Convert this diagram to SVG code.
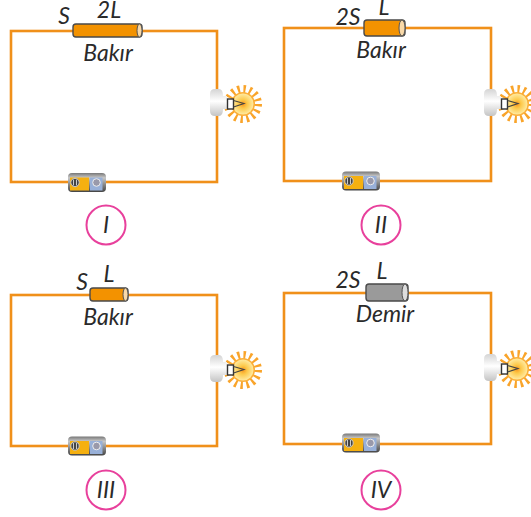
<svg xmlns="http://www.w3.org/2000/svg" width="531" height="517" viewBox="0 0 531 517">
<style>
.w{fill:none;stroke:#f0901a;stroke-width:2.6}
.t{font-family:"Lato","Open Sans","Liberation Sans",sans-serif;font-style:italic;font-size:23px;fill:#2a2a2a;text-anchor:middle}
.c{fill:#fff;stroke:#e8409c;stroke-width:2}
.r{stroke:#4a4a4a;stroke-width:1.4}
</style>
<defs>
<linearGradient id="sock" x1="0" y1="0" x2="0" y2="1"><stop offset="0" stop-color="#d4d4d4"/><stop offset=".45" stop-color="#ffffff"/><stop offset="1" stop-color="#c4c4c4"/></linearGradient>
<linearGradient id="metal" x1="0" y1="0" x2="0" y2="1"><stop offset="0" stop-color="#777"/><stop offset=".25" stop-color="#c8c8c8"/><stop offset="1" stop-color="#444"/></linearGradient>
<radialGradient id="glow"><stop offset="0" stop-color="#f7941d"/><stop offset=".4" stop-color="#fdc94a"/><stop offset="1" stop-color="#ffeaa0"/></radialGradient>
<g id="bulb">
<circle cx="26" cy="2" r="15" fill="none" stroke="#f9a42a" stroke-width="8" stroke-dasharray="2.300 3.590"/>
<circle cx="26" cy="2" r="12" fill="#fbb03b"/>
<circle cx="26" cy="2" r="10.500" fill="url(#glow)"/>
<path d="M-7-8Q-7-13-2-13H2Q6-13 6-6H10V7H6Q6 14 2 14H-2Q-7 14-7 9Z" fill="url(#sock)"/>
<rect x="10.500" y="-3" width="6" height="10" fill="#fff" stroke="#333" stroke-width="1.400"/>
<path d="M16.500-1.500 27 1.500 16.500 5" fill="none" stroke="#444" stroke-width="1.100"/>
</g>
<g id="bat">
<rect x="-19" y="-9.500" width="38" height="19" rx="4" fill="url(#metal)"/>
<rect x="-17" y="-5" width="19" height="13" fill="#f5b010"/>
<rect x="3" y="-5" width="12.500" height="13" fill="#98b0d8"/>
<circle cx="-12" cy="0" r="4.200" fill="#444" stroke="#ccc"/>
<circle cx="9.500" cy="0" r="3.800" fill="#99a" stroke="#eee"/>
<path d="M-13.500-3V3M-10.500-3V3" stroke="#eee" stroke-width=".8"/>
</g>
</defs>
<g id="connectors">
<rect class="w" x="11" y="31" width="206" height="151"/>
<rect class="w" x="284" y="28" width="207" height="153"/>
<rect class="w" x="11" y="295" width="206" height="151"/>
<rect class="w" x="284" y="293" width="207" height="151"/>
</g>
<g id="circuit-1">
<g id="res1"><rect class="r" x="73" y="24" width="69" height="13" rx="3" fill="#f39200"/><ellipse cx="139.500" cy="30.500" rx="2.500" ry="6.500" fill="#f9d9a8" stroke="#555"/></g>
<text class="t" x="64" y="24">S</text><text class="t" x="109" y="18">2L</text><text class="t" x="108" y="61">Bakır</text>
<use href="#bat" x="87" y="182.500"/><use href="#bulb" x="217" y="102"/>
<circle class="c" cx="106" cy="225" r="19.500"/><text class="t" x="106" y="233">I</text>
</g>
<g id="circuit-2">
<g id="res2"><rect class="r" x="364" y="20" width="41" height="16" rx="3" fill="#f39200"/><ellipse cx="402" cy="28" rx="3" ry="8" fill="#f9d9a8" stroke="#555"/></g>
<text class="t" x="348" y="25">2S</text><text class="t" x="384" y="15">L</text><text class="t" x="381" y="58">Bakır</text>
<use href="#bat" x="361" y="181"/><use href="#bulb" x="491" y="102"/>
<circle class="c" cx="381" cy="225" r="19.500"/><text class="t" x="381" y="233">II</text>
</g>
<g id="circuit-3">
<g id="res3"><rect class="r" x="90" y="288" width="38" height="13" rx="3" fill="#f39200"/><ellipse cx="125.500" cy="294.500" rx="2.500" ry="6.500" fill="#f9d9a8" stroke="#555"/></g>
<text class="t" x="82" y="290">S</text><text class="t" x="109" y="282">L</text><text class="t" x="108" y="325">Bakır</text>
<use href="#bat" x="87" y="446"/><use href="#bulb" x="217" y="368"/>
<circle class="c" cx="106" cy="490" r="19.500"/><text class="t" x="106" y="498">III</text>
</g>
<g id="circuit-4">
<g id="res4"><rect class="r" x="366" y="284" width="42" height="17" rx="3" fill="#9a9a9a"/><ellipse cx="405" cy="292.500" rx="3" ry="8.500" fill="#ddd" stroke="#555"/></g>
<text class="t" x="348" y="288">2S</text><text class="t" x="382" y="279">L</text><text class="t" x="385" y="322">Demir</text>
<use href="#bat" x="361" y="443"/><use href="#bulb" x="491" y="367"/>
<circle class="c" cx="381" cy="490" r="19.500"/><text class="t" x="381" y="498">IV</text>
</g>
</svg>
